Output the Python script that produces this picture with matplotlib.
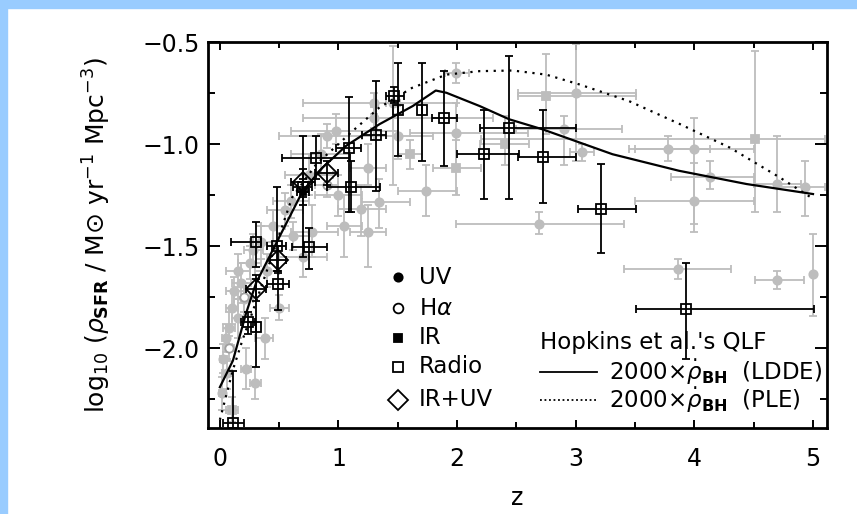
import numpy as np
import matplotlib.pyplot as plt
from matplotlib.patches import Rectangle

# Hopkins et al. QLF curves (2000 x rho_BH dot)
ldde_z = [0.0, 0.11, 0.22, 0.305, 0.50, 0.70, 0.867, 1.064, 1.345, 1.626, 1.82,
          1.91, 2.19, 2.44, 2.72, 3.31, 3.87, 4.44, 5.0]
ldde_y = [-2.19, -2.06, -1.83, -1.68, -1.456, -1.228, -1.114, -1.008, -0.902,
          -0.813, -0.737, -0.748, -0.813, -0.878, -0.927, -1.049, -1.130, -1.195, -1.244]
ple_z = [0.0, 0.11, 0.19, 0.27, 0.45, 0.61, 0.81, 1.12, 1.345, 1.62, 1.91, 2.19,
         2.47, 2.75, 3.03, 3.45, 3.88, 4.30, 4.72, 5.0]
ple_y = [-2.35, -2.105, -1.96, -1.83, -1.53, -1.26, -1.10, -0.935, -0.82, -0.724,
         -0.659, -0.642, -0.639, -0.659, -0.707, -0.789, -0.902, -1.017, -1.163, -1.267]

# rows: z, log rho, z_low, z_high, y_low, y_high
uv_points = [
    (0.02, -2.22, -0.01, 0.05, -2.30, -2.14), (0.03, -2.05, 0.0, 0.06, -2.12, -1.98),
    (0.05, -1.95, 0.02, 0.08, -2.02, -1.88), (0.06, -2.12, 0.02, 0.10, -2.20, -2.05),
    (0.08, -1.90, 0.03, 0.13, -1.98, -1.82), (0.10, -1.80, 0.05, 0.15, -1.88, -1.72),
    (0.12, -1.72, 0.05, 0.20, -1.80, -1.65), (0.15, -1.62, 0.05, 0.25, -1.70, -1.54),
    (0.15, -1.85, 0.10, 0.20, -1.95, -1.76), (0.18, -1.68, 0.10, 0.26, -1.78, -1.58),
    (0.20, -1.76, 0.12, 0.28, -1.84, -1.68), (0.22, -2.10, 0.18, 0.26, -2.20, -2.00),
    (0.25, -1.58, 0.15, 0.35, -1.66, -1.50), (0.28, -1.52, 0.20, 0.36, -1.60, -1.44),
    (0.30, -2.17, 0.25, 0.35, -2.25, -2.09), (0.35, -1.48, 0.25, 0.45, -1.56, -1.40),
    (0.38, -1.95, 0.30, 0.45, -2.05, -1.85), (0.40, -1.62, 0.30, 0.50, -1.70, -1.54),
    (0.45, -1.40, 0.35, 0.55, -1.48, -1.32), (0.50, -1.80, 0.42, 0.58, -1.86, -1.74),
    (0.55, -1.32, 0.40, 0.70, -1.40, -1.24), (0.60, -1.28, 0.45, 0.75, -1.36, -1.20),
    (0.62, -1.45, 0.50, 0.75, -1.52, -1.38), (0.70, -1.55, 0.50, 0.90, -1.65, -1.45),
    (0.75, -1.15, 0.55, 0.95, -1.25, -1.05), (0.78, -1.43, 0.60, 1.00, -1.55, -1.30),
    (0.85, -1.05, 0.60, 1.10, -1.15, -0.95), (0.90, -0.96, 0.50, 1.30, -1.02, -0.90),
    (0.98, -0.935, 0.60, 1.50, -1.00, -0.85), (1.00, -1.25, 0.80, 1.20, -1.35, -1.15),
    (1.05, -1.40, 0.90, 1.20, -1.55, -1.25), (1.19, -1.317, 1.00, 1.40, -1.45, -1.20),
    (1.25, -1.114, 1.10, 1.40, -1.20, -1.00), (1.25, -1.43, 1.10, 1.40, -1.60, -1.30),
    (1.345, -1.285, 1.20, 1.60, -1.41, -1.17), (1.30, -0.80, 0.70, 2.00, -0.85, -0.75),
    (1.30, -0.87, 0.70, 2.30, -0.92, -0.82), (1.50, -0.96, 1.20, 1.80, -1.07, -0.85),
    (1.46, -0.80, 1.40, 1.52, -1.20, -0.52), (1.74, -1.228, 1.50, 2.00, -1.35, -1.10),
    (1.99, -0.943, 1.60, 2.60, -1.10, -0.80), (1.99, -0.65, 1.90, 2.10, -0.70, -0.60),
    (2.69, -1.39, 1.99, 3.41, -1.44, -1.33), (2.90, -0.927, 2.50, 3.39, -1.10, -0.86),
    (3.00, -0.748, 2.51, 3.51, -1.08, -0.51), (3.05, -1.04, 2.95, 3.15, -1.08, -1.00),
    (3.78, -1.024, 3.45, 4.13, -1.08, -0.96), (4.00, -1.024, 3.50, 4.50, -1.43, -0.87),
    (4.13, -1.16, 3.80, 4.50, -1.22, -1.08), (4.00, -1.277, 3.50, 4.50, -1.39, -1.09),
    (4.70, -1.195, 4.50, 4.90, -1.33, -0.96), (4.93, -1.21, 4.70, 5.10, -1.35, -1.08),
    (3.86, -1.61, 3.41, 4.31, -1.66, -1.56), (4.70, -1.667, 4.51, 4.92, -1.71, -1.62),
    (5.00, -1.634, 5.00, 5.00, -1.84, -1.44),
]
ir_gray_points = [
    (1.60, -1.05, 1.50, 1.70, -1.12, -0.98), (1.99, -1.114, 1.80, 2.20, -1.25, -0.98),
    (2.40, -1.00, 2.19, 2.61, -1.10, -0.86), (2.75, -0.764, 2.51, 3.51, -0.95, -0.56),
    (4.51, -0.976, 2.20, 5.10, -1.33, -0.545), (0.10, -2.30, 0.05, 0.15, -2.36, -2.24),
]
ha_points = [
    (0.08, -2.00, 0.04, 0.12, -2.06, -1.94), (0.20, -1.75, 0.15, 0.25, -1.82, -1.68),
    (0.90, -1.20, 0.80, 1.00, -1.26, -1.14),
]
radio_points = [
    (1.47, -0.764, 1.40, 1.55, -0.80, -0.72), (1.50, -0.834, 1.50, 1.50, -1.057, -0.60),
    (1.70, -0.834, 1.70, 1.70, -1.08, -0.60), (1.89, -0.873, 1.79, 2.00, -1.106, -0.64),
    (1.32, -0.955, 1.20, 1.40, -1.23, -0.69), (1.09, -1.02, 0.98, 1.19, -1.33, -0.77),
    (0.81, -1.068, 0.52, 1.10, -1.17, -0.96), (1.106, -1.21, 0.90, 1.35, -1.33, -1.08),
    (0.305, -1.48, 0.09, 0.35, -1.60, -1.38), (0.48, -1.50, 0.40, 0.56, -1.62, -1.21),
    (0.755, -1.504, 0.61, 0.90, -1.61, -1.41), (0.49, -1.683, 0.40, 0.58, -1.81, -1.62),
    (0.235, -1.87, 0.18, 0.30, -1.93, -1.82), (0.305, -1.894, 0.305, 0.305, -2.09, -1.66),
    (0.108, -2.366, 0.03, 0.20, -2.45, -2.11), (0.70, -1.21, 0.62, 0.78, -1.55, -0.96),
    (2.44, -0.919, 2.19, 3.00, -1.27, -0.57), (2.23, -1.049, 2.00, 2.52, -1.27, -0.83),
    (2.72, -1.062, 2.51, 3.00, -1.29, -0.83), (3.21, -1.317, 3.02, 3.51, -1.534, -1.095),
    (3.93, -1.805, 3.51, 5.01, -2.05, -1.58),
]
ir_points = [
    (0.70, -1.236, 0.65, 0.75, -1.30, -1.17),
]
iruv_points = [
    (0.70, -1.187, 0.60, 0.80, -1.26, -1.12), (0.90, -1.14, 0.80, 1.00, -1.20, -1.08),
    (0.49, -1.566, 0.42, 0.56, -1.63, -1.50), (0.305, -1.707, 0.22, 0.39, -1.77, -1.64),
]


def draw_points(ax, rows, color, ecolor, marker, size, face, zorder):
    z, y, zlo, zhi, ylo, yhi = np.array(rows).T
    ax.errorbar(z, y, xerr=[z - zlo, zhi - z], yerr=[y - ylo, yhi - y],
                fmt=marker, ms=size, mfc=face, mec=color, mew=1.3,
                ecolor=ecolor, elinewidth=1.3, capsize=3, capthick=1.3,
                zorder=zorder)


plt.rcParams['font.family'] = ['DejaVu Sans']
plt.rcParams['mathtext.fontset'] = 'dejavusans'

fig = plt.figure(figsize=(8.57, 5.14), dpi=100)
fig.patches.append(Rectangle((0, 1 - 8 / 514), 1, 8 / 514, transform=fig.transFigure,
                             color='#99ccff', zorder=-5))
fig.patches.append(Rectangle((0, 0), 7 / 857, 1, transform=fig.transFigure,
                             color='#99ccff', zorder=-5))
ax = fig.add_axes([0.2427, 0.1673, 0.7219, 0.7507])

gray = '#bdbdbd'
draw_points(ax, uv_points, gray, gray, 'o', 6, gray, 2)
draw_points(ax, ir_gray_points, gray, gray, 's', 6, gray, 2)
draw_points(ax, ha_points, '#a0a0a0', gray, 'o', 6, 'white', 2)
draw_points(ax, radio_points, 'black', 'black', 's', 7, 'none', 4)
draw_points(ax, ir_points, 'black', 'black', 's', 5, 'black', 4)
draw_points(ax, iruv_points, 'black', 'black', 'D', 10, 'none', 4)

ax.plot(ldde_z, ldde_y, color='black', lw=1.6, zorder=6)
ax.plot(ple_z, ple_y, color='black', lw=1.6, ls=(0, (1, 2.5)), zorder=6)

# left legend
leg_rows = [-1.652, -1.803, -1.949, -2.091, -2.252]
leg_names = ['UV', r'H$\alpha$', 'IR', 'Radio', 'IR+UV']
leg_style = [('o', 6, 'black'), ('o', 7, 'white'), ('s', 5.5, 'black'),
             ('s', 6.5, 'white'), ('D', 10, 'white')]
for yy, name, (mk, ms, fc) in zip(leg_rows, leg_names, leg_style):
    ax.plot([1.50], [yy], marker=mk, ms=ms, mfc=fc, mec='black', mew=1.3,
            ls='none', zorder=7)
    ax.text(1.68, yy, name, fontsize=16.5, va='center', ha='left', zorder=7)

# right legend
ax.text(2.70, -1.97, "Hopkins et al.'s QLF", fontsize=16.5, va='center', ha='left', zorder=7)
ax.plot([2.70, 3.18], [-2.116, -2.116], color='black', lw=1.3, zorder=7)
ax.plot([2.70, 3.18], [-2.252, -2.252], color='black', lw=1.3, ls=(0, (1, 1.5)), zorder=7)
ax.text(3.28, -2.116, r'2000$\times\dot{\rho}_{\mathbf{BH}}$  (LDDE)', fontsize=16.5,
        va='center', ha='left', zorder=7)
ax.text(3.28, -2.252, r'2000$\times\dot{\rho}_{\mathbf{BH}}$  (PLE)', fontsize=16.5,
        va='center', ha='left', zorder=7)

ax.set_xlim(-0.10, 5.115)
ax.set_ylim(-2.39, -0.5)
ax.set_xticks([0, 1, 2, 3, 4, 5])
ax.set_xticks(np.arange(0, 5.01, 0.5), minor=True)
ax.set_yticks([-2.0, -1.5, -1.0, -0.5])
ax.set_yticklabels(['\u22122.0', '\u22121.5', '\u22121.0', '\u22120.5'])
ax.set_yticks(np.arange(-2.25, -0.49, 0.25), minor=True)
ax.tick_params(which='both', direction='in', top=True, right=True, width=1.4)
ax.tick_params(axis='x', which='major', length=6, pad=14, labelsize=17)
ax.tick_params(axis='x', which='minor', length=4.5)
ax.tick_params(axis='y', which='major', length=8.5, pad=6, labelsize=17)
ax.tick_params(axis='y', which='minor', length=5)
for sp in ax.spines.values():
    sp.set_linewidth(2)

ax.set_xlabel('z', fontsize=17)
ax.xaxis.set_label_coords(0.5, -0.15)
ax.set_ylabel('log$_{10}$ ($\\rho_{\\mathbf{SFR}}$ / M\u2299 yr$^{-1}$ Mpc$^{-3}$)',
              fontsize=18)
ax.yaxis.set_label_coords(-0.154, 0.5)

fig.savefig('out.png', dpi=100)
